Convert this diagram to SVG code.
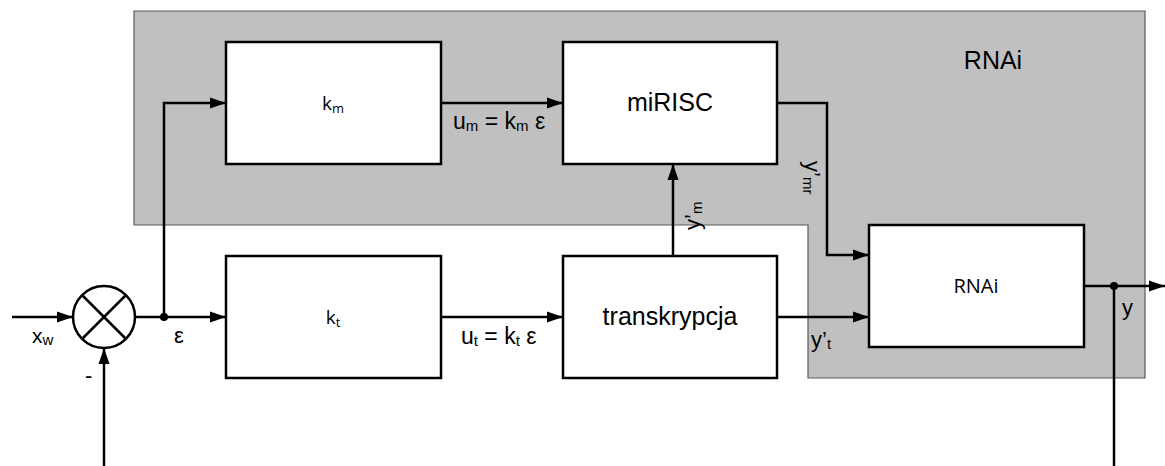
<svg xmlns="http://www.w3.org/2000/svg" width="1165" height="466" viewBox="0 0 1165 466">
<style>
.blk{fill:#fff;stroke:#000;stroke-width:2.5}
.ln{fill:none;stroke:#000;stroke-width:2.5}
.t{font-family:"Liberation Sans",Arial,sans-serif;fill:#000}
.c{font-family:"Open Sans","Liberation Sans",sans-serif;fill:#000}
.s{font-size:15px}
</style>
<defs>
<marker id="ar" markerUnits="userSpaceOnUse" markerWidth="17" markerHeight="12" refX="16" refY="6" orient="auto">
<path d="M0,0.5 L16,6 L0,11.5 z" fill="#000"/>
</marker>
</defs>
<g id="region-rnai">
<path d="M134,11 H1145 V378 H808 V225 H134 Z" fill="#c0c0c0" stroke="#595959" stroke-width="1.2"/>
<text class="t" x="993" y="69" font-size="25" text-anchor="middle">RNAi</text>
</g>
<g id="sum">
<circle cx="104" cy="317" r="31" class="blk"/>
<path d="M82,295 L126,339 M126,295 L82,339" class="ln"/>
</g>
<g id="km">
<rect x="226" y="42" width="215" height="122" class="blk"/>
<text class="c" x="333" y="110" font-size="19" text-anchor="middle">k<tspan font-size="13" dy="3">m</tspan></text>
</g>
<g id="kt">
<rect x="226" y="256" width="215" height="122" class="blk"/>
<text class="c" x="333" y="324" font-size="19" text-anchor="middle">k<tspan font-size="13" dy="3">t</tspan></text>
</g>
<g id="mirisc">
<rect x="563" y="42" width="214" height="122" class="blk"/>
<text class="t" x="670" y="111" font-size="25" text-anchor="middle">miRISC</text>
</g>
<g id="transkrypcja">
<rect x="563" y="256" width="214" height="122" class="blk"/>
<text class="t" x="670" y="325" font-size="25" text-anchor="middle">transkrypcja</text>
</g>
<g id="rnai">
<rect x="869" y="225" width="215" height="122" class="blk"/>
<text class="c" x="976" y="293" font-size="20" text-anchor="middle">RNAi</text>
</g>
<g id="connectors">
<path d="M12,317 H73" class="ln" marker-end="url(#ar)"/>
<path d="M104,466 V348" class="ln" marker-end="url(#ar)"/>
<path d="M135,317 H226" class="ln" marker-end="url(#ar)"/>
<path d="M164,317 V103 H226" class="ln" marker-end="url(#ar)"/>
<path d="M441,103 H563" class="ln" marker-end="url(#ar)"/>
<path d="M441,317 H563" class="ln" marker-end="url(#ar)"/>
<path d="M673,256 V164" class="ln" marker-end="url(#ar)"/>
<path d="M777,103 H827 V255 H869" class="ln" marker-end="url(#ar)"/>
<path d="M777,317 H869" class="ln" marker-end="url(#ar)"/>
<path d="M1084,286 H1165" class="ln" marker-end="url(#ar)"/>
<path d="M1114,286 V466" class="ln"/>
<circle cx="164" cy="317" r="4" fill="#000"/>
<circle cx="1114" cy="286" r="4" fill="#000"/>
</g>
<g id="labels">
<text class="t" x="32" y="343" font-size="21">x<tspan class="s" dy="2">w</tspan></text>
<text class="t" x="174" y="343" font-size="22">ε</text>
<text class="t" x="85" y="383" font-size="22">-</text>
<text class="t" x="453" y="129" font-size="23">u<tspan class="s" dy="2">m</tspan><tspan dy="-2"> = k</tspan><tspan class="s" dy="2">m</tspan><tspan dy="-2"> ε</tspan></text>
<text class="t" x="461" y="344" font-size="23">u<tspan class="s" dy="2">t</tspan><tspan dy="-2"> = k</tspan><tspan class="s" dy="2">t</tspan><tspan dy="-2"> ε</tspan></text>
<text class="t" x="811" y="347" font-size="22">y’<tspan class="s" dy="2">t</tspan></text>
<text class="t" x="1122" y="315" font-size="22">y</text>
<text class="t" transform="translate(700,230) rotate(-90)" font-size="22">y’<tspan class="s" dy="2">m</tspan></text>
<text class="t" transform="translate(805,161) rotate(90)" font-size="22">y’<tspan class="s" dy="2">mr</tspan></text>
</g>
</svg>
